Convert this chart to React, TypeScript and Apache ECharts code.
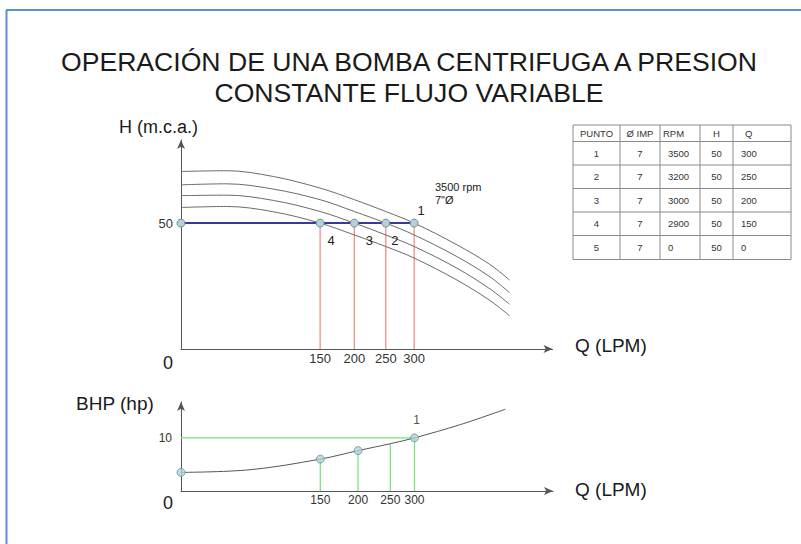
import React, { useEffect, useRef } from "react";
import * as echarts from "echarts";

// ---- data (the Q axis is a schematic, so each Q label has a drawn position) ----
const qLabels = [150, 200, 250, 300];
const qDrawnTop = [179, 223, 263.5, 300];
const qDrawnBottom = [179, 227.5, 269, 300];
const pointNames = ["4", "3", "2", "1"];
const hOperating = 50;
const hTick = [50];
const bhpTick = [10];

const curveX = [0, 58.8, 118.9, 179, 223, 263.5, 300, 355, 397.8, 422.7];
const curve3500 = [70.5, 70.8, 68.5, 63.9, 59.3, 54.6, 50, 41.4, 33.5, 27.4];
const curve3200 = [65.2, 65.6, 63.5, 59.3, 54.6, 50, 45.3, 36.7, 28.6, 22.4];
const curve3000 = [60.9, 61.1, 59.0, 54.6, 50, 45.3, 40.7, 32.1, 23.8, 17.8];
const curve2900 = [56.2, 56.6, 54.5, 50, 45.3, 40.7, 36.1, 27.4, 19.2, 13.2];

const bhpCurveX = [0, 88.8, 179, 227.5, 269, 300, 359, 417];
const bhpCurveY = [3.5, 4.0, 6.0, 7.6, 8.9, 10, 12.5, 15.4];
const bhpZero = 3.5;
const bhpAtQ = [6.0, 7.6, 8.9, 10];
const bhpMarked = [true, true, false, true];

// table
const tHeader = ["PUNTO", "Ø IMP", "RPM", "H", "Q"];
const tPunto = ["1", "2", "3", "4", "5"];
const tImp = [7, 7, 7, 7, 7];
const tRpm = [3500, 3200, 3000, 2900, 0];
const tH = [50, 50, 50, 50, 50];
const tQ = [300, 250, 200, 150, 0];

const FONT = "Liberation Sans, Arial, Helvetica, sans-serif";

function lookup(v: number, drawn: number[]) {
  const i = drawn.findIndex((d) => Math.abs(d - v) < 0.01);
  return i >= 0 ? String(qLabels[i]) : "";
}

function buildOption() {
  const axisLine = {
    show: true,
    symbol: ["none", "arrow"],
    symbolSize: [6, 9],
    lineStyle: { color: "#555", width: 1 },
  };
  const curveSeries = [curve3500, curve3200, curve3000, curve2900].map((c) => ({
    type: "line",
    xAxisIndex: 0,
    yAxisIndex: 0,
    data: curveX.map((x, i) => [x, c[i]]),
    smooth: 0.35,
    symbol: "none",
    lineStyle: { color: "#6a6a6a", width: 1 },
    silent: true,
    z: 2,
  }));
  const redLines = qDrawnTop.map((q) => ({
    type: "line",
    xAxisIndex: 0,
    yAxisIndex: 0,
    data: [
      [q, 0],
      [q, hOperating],
    ],
    symbol: "none",
    lineStyle: { color: "#f2867a", width: 1.2 },
    silent: true,
    z: 1,
  }));
  const labelOffsets: Record<string, number[]> = {
    "1": [7, -13],
    "2": [9, 17],
    "3": [15, 17],
    "4": [11, 17],
  };
  const pointLabel = {
    show: true,
    position: "inside",
    fontSize: 13,
    color: "#222",
    textBorderWidth: 0,
    fontFamily: FONT,
  };
  const opData = [
    { value: [0, hOperating] },
    ...qDrawnTop.map((q, i) => ({
      value: [q, hOperating],
      label: {
        ...pointLabel,
        formatter: pointNames[i],
        offset: labelOffsets[pointNames[i]],
      },
    })),
  ];
  const marker = {
    symbol: "circle",
    symbolSize: 8,
    itemStyle: { color: "#afd3d9", borderColor: "#6f9197", borderWidth: 1 },
  };
  const opSeries = {
    type: "line",
    xAxisIndex: 0,
    yAxisIndex: 0,
    data: opData,
    showAllSymbol: true,
    ...marker,
    lineStyle: { color: "#38389f", width: 2 },
    z: 5,
  };

  // bottom chart
  const bhpCurve = {
    type: "line",
    xAxisIndex: 1,
    yAxisIndex: 1,
    data: bhpCurveX.map((x, i) => [x, bhpCurveY[i]]),
    smooth: 0.35,
    symbol: "none",
    lineStyle: { color: "#555", width: 1 },
    silent: true,
    z: 2,
  };
  const greenH = {
    type: "line",
    xAxisIndex: 1,
    yAxisIndex: 1,
    data: [
      [0, bhpAtQ[3]],
      [qDrawnBottom[3], bhpAtQ[3]],
    ],
    symbol: "none",
    lineStyle: { color: "#74e274", width: 1.2 },
    silent: true,
    z: 1,
  };
  const greenV = qDrawnBottom.map((q, i) => ({
    type: "line",
    xAxisIndex: 1,
    yAxisIndex: 1,
    data: [
      [q, 0],
      [q, bhpAtQ[i]],
    ],
    symbol: "none",
    lineStyle: { color: "#74e274", width: 1.2 },
    silent: true,
    z: 1,
  }));
  const bhpPoints = {
    type: "scatter",
    xAxisIndex: 1,
    yAxisIndex: 1,
    ...marker,
    data: [
      { value: [0, bhpZero] },
      ...qDrawnBottom
        .map((q, i) => ({ q, i }))
        .filter(({ i }) => bhpMarked[i])
        .map(({ q, i }) => ({
          value: [q, bhpAtQ[i]],
          label:
            i === 3
              ? { ...pointLabel, formatter: "1", fontSize: 12, offset: [2, -18] }
              : { show: false },
        })),
    ],
    z: 5,
  };

  // table graphic
  const colX = [573, 620, 660, 700, 733, 791];
  const rowY = [125, 141.5, 165, 188.5, 212, 235.5, 259.5];
  const tableEls: any[] = [];
  tableEls.push({
    type: "rect",
    shape: { x: colX[0], y: rowY[0], width: colX[5] - colX[0], height: rowY[6] - rowY[0] },
    style: { fill: "#fff", stroke: "#8a8a8a", lineWidth: 1 },
  });
  for (let i = 1; i < colX.length - 1; i++) {
    tableEls.push({
      type: "line",
      shape: { x1: colX[i], y1: rowY[0], x2: colX[i], y2: rowY[6] },
      style: { stroke: "#8a8a8a", lineWidth: 1 },
    });
  }
  for (let j = 1; j < rowY.length - 1; j++) {
    tableEls.push({
      type: "line",
      shape: { x1: colX[0], y1: rowY[j], x2: colX[5], y2: rowY[j] },
      style: { stroke: "#8a8a8a", lineWidth: 1 },
    });
  }
  const cellText = (txt: string, col: number, row: number, align: string, pad = 4) => {
    const x =
      align === "center" ? (colX[col] + colX[col + 1]) / 2 : colX[col] + pad;
    tableEls.push({
      type: "text",
      style: {
        text: txt,
        x,
        y: (rowY[row] + rowY[row + 1]) / 2,
        textAlign: align,
        textVerticalAlign: "middle",
        fontSize: 9.5,
        fontFamily: FONT,
        fill: "#333",
      },
    });
  };
  const headAlign = ["center", "center", "left", "center", "left"];
  const headPad = [0, 0, 3, 0, 12];
  const bodyAlign = ["center", "center", "left", "center", "left"];
  const bodyPad = [0, 0, 8, 0, 8];
  tHeader.forEach((h, c) => cellText(h, c, 0, headAlign[c], headPad[c]));
  tPunto.forEach((p, r) => {
    const row = [p, String(tImp[r]), String(tRpm[r]), String(tH[r]), String(tQ[r])];
    row.forEach((v, c) => cellText(v, c, r + 1, bodyAlign[c], bodyPad[c]));
  });

  const txt = (text: string, x: number, y: number, fontSize: number, align = "left") => ({
    type: "text",
    style: {
      text,
      x,
      y,
      textAlign: align,
      textVerticalAlign: "middle",
      fontSize,
      fontFamily: FONT,
      fill: "#1a1a1a",
    },
  });

  return {
    animation: false,
    backgroundColor: "#ffffff",
    grid: [
      { left: 181, top: 140, width: 371.5, height: 209 },
      { left: 181, top: 402, width: 372, height: 89 },
    ],
    xAxis: [
      {
        gridIndex: 0,
        type: "value",
        min: 0,
        max: 478,
        axisLine,
        axisTick: { show: false },
        splitLine: { show: false },
        axisLabel: {
          customValues: qDrawnTop,
          formatter: (v: number) => lookup(v, qDrawnTop),
          fontSize: 13,
          color: "#333",
          margin: 3,
          fontFamily: FONT,
        },
      },
      {
        gridIndex: 1,
        type: "value",
        min: 0,
        max: 478,
        axisLine,
        axisTick: { show: false },
        splitLine: { show: false },
        axisLabel: {
          customValues: qDrawnBottom,
          formatter: (v: number) => lookup(v, qDrawnBottom),
          fontSize: 12,
          color: "#333",
          margin: 3,
          fontFamily: FONT,
        },
      },
    ],
    yAxis: [
      {
        gridIndex: 0,
        type: "value",
        min: 0,
        max: 83,
        axisLine,
        axisTick: { show: false },
        splitLine: { show: false },
        axisLabel: {
          customValues: hTick,
          fontSize: 13,
          color: "#333",
          margin: 8,
          fontFamily: FONT,
        },
      },
      {
        gridIndex: 1,
        type: "value",
        min: 0,
        max: 16.75,
        axisLine,
        axisTick: { show: false },
        splitLine: { show: false },
        axisLabel: {
          customValues: bhpTick,
          fontSize: 12,
          color: "#333",
          margin: 9,
          fontFamily: FONT,
        },
      },
    ],
    graphic: [
      {
        type: "line",
        shape: { x1: 6, y1: 10, x2: 801, y2: 10 },
        style: { stroke: "#5f8fd2", lineWidth: 2 },
      },
      {
        type: "line",
        shape: { x1: 6.5, y1: 10, x2: 6.5, y2: 544 },
        style: { stroke: "#5f8fd2", lineWidth: 2 },
      },
      txt("OPERACIÓN DE UNA BOMBA CENTRIFUGA A PRESION", 409, 62, 26.6, "center"),
      txt("CONSTANTE FLUJO VARIABLE", 409, 93, 26.6, "center"),
      txt("H (m.c.a.)", 119, 127, 18),
      txt("Q (LPM)", 575, 345, 19),
      txt("0", 168, 363, 18, "center"),
      txt("3500 rpm", 435, 187, 11),
      txt("7\"Ø", 435, 199.5, 11),
      txt("BHP (hp)", 76, 403, 19),
      txt("Q (LPM)", 575, 489, 19),
      txt("0", 168, 503, 18, "center"),
      ...tableEls,
    ],
    series: [
      ...redLines,
      ...curveSeries,
      opSeries,
      greenH,
      ...greenV,
      bhpCurve,
      bhpPoints,
    ],
  };
}

export default function App() {
  const ref = useRef<HTMLDivElement>(null);
  useEffect(() => {
    if (!ref.current) return;
    const chart = echarts.init(ref.current, null, { renderer: "svg" });
    chart.setOption(buildOption() as any);
    return () => chart.dispose();
  }, []);
  return (
    <div
      ref={ref}
      style={{ position: "absolute", left: 0, top: 0, width: 801, height: 544, background: "#fff" }}
    />
  );
}
